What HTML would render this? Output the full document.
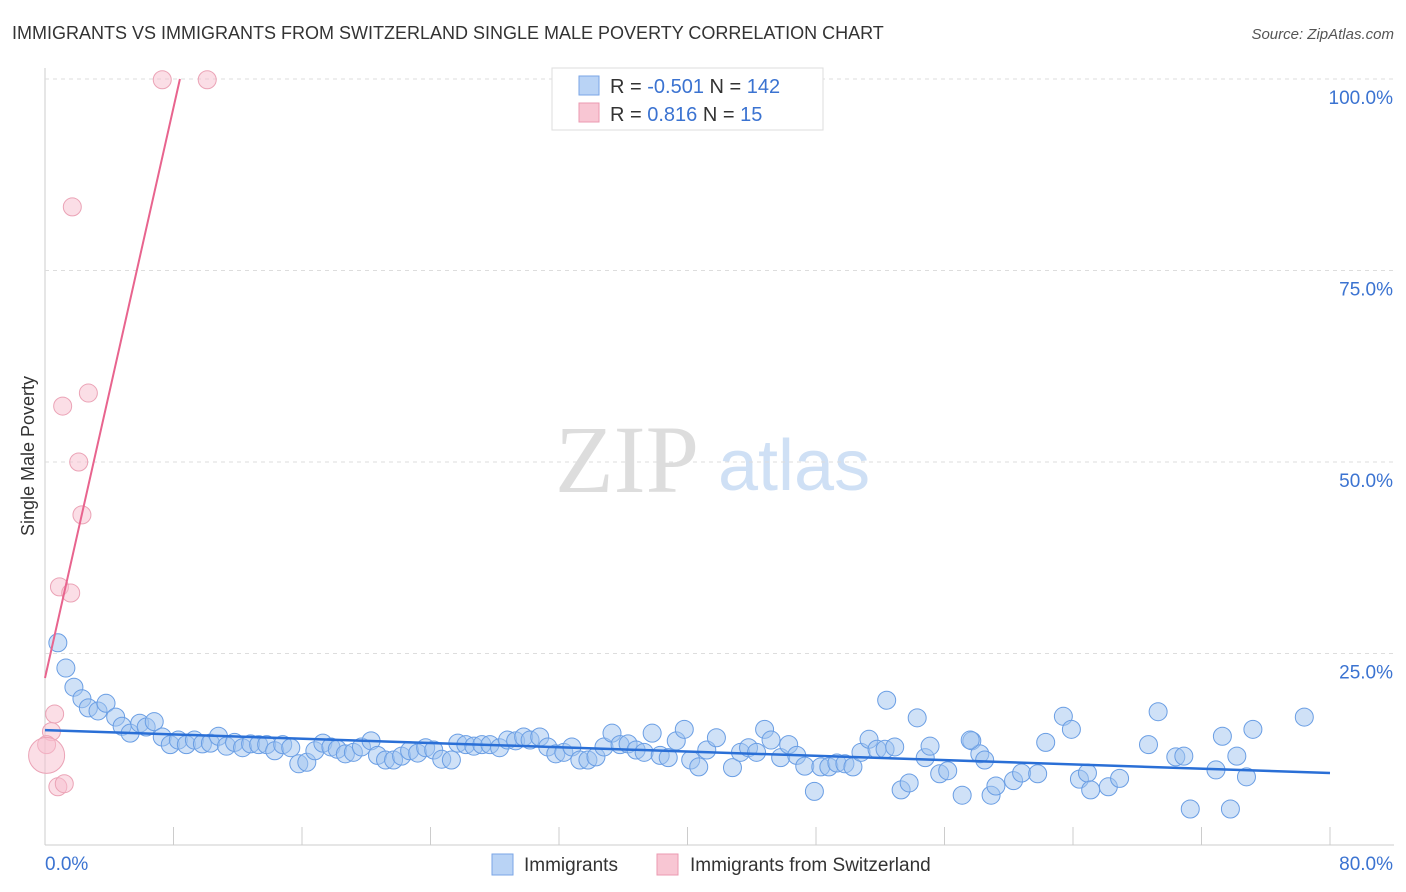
<!DOCTYPE html>
<html><head><meta charset="utf-8"><style>
body{margin:0;background:#fff;font-family:"Liberation Sans",sans-serif;}
#wrap{position:relative;width:1406px;height:892px;overflow:hidden;}
</style></head><body>
<div id="wrap">
<svg id="chart" width="1406" height="892">
<text x="12" y="39" font-size="18" fill="#333">IMMIGRANTS VS IMMIGRANTS FROM SWITZERLAND SINGLE MALE POVERTY CORRELATION CHART</text>
<text x="1394" y="39" font-size="15" fill="#555" font-style="italic" text-anchor="end">Source: ZipAtlas.com</text>
<text x="34" y="456" font-size="18" fill="#333" text-anchor="middle" transform="rotate(-90 34 456)">Single Male Poverty</text>
<text x="555" y="492" font-size="96" fill="#ddd" font-family="Liberation Serif,serif">ZIP</text>
<text x="718" y="490" font-size="72" fill="#cfe0f5">atlas</text>
<g id="grid"></g><g id="pts"></g><g id="lines"></g>
<rect x="552" y="68" width="271" height="62" fill="#fff" stroke="#ddd"/>
<rect x="579" y="76" width="20" height="19" fill="#b9d3f5" stroke="#7aa6e6"/>
<rect x="579" y="103" width="20" height="19" fill="#f8c6d3" stroke="#eb9ab0"/>
<text x="610" y="93" font-size="20" fill="#333">R = <tspan fill="#3b73d1">-0.501</tspan>   N = <tspan fill="#3b73d1">142</tspan></text>
<text x="610" y="121" font-size="20" fill="#333">R =  <tspan fill="#3b73d1">0.816</tspan>   N =   <tspan fill="#3b73d1">15</tspan></text>
<rect x="492" y="854" width="21" height="21" fill="#b9d3f5" stroke="#7aa6e6"/>
<text x="524" y="871" font-size="19" fill="#333">Immigrants</text>
<rect x="657" y="854" width="21" height="21" fill="#f8c6d3" stroke="#eb9ab0"/>
<text x="690" y="871" font-size="19" fill="#333">Immigrants from Switzerland</text>
</svg>
</div>
<script>
const xTickLabels=["0.0%","80.0%"];
const yTicks=[25,50,75,100];
const yTickLabels=["25.0%","50.0%","75.0%","100.0%"];
const blueX=[0.8,1.3,1.8,2.3,2.7,3.3,3.8,4.4,4.8,5.3,5.9,6.3,6.8,7.3,7.8,8.3,8.8,9.3,9.8,10.3,10.8,11.3,11.8,12.3,12.8,13.3,13.8,14.3,14.8,15.3,15.8,16.3,16.8,17.3,17.8,18.2,18.7,19.2,19.7,20.3,20.7,21.2,21.7,22.2,22.7,23.2,23.7,24.2,24.7,25.3,25.7,26.2,26.7,27.2,27.7,28.3,28.8,29.3,29.8,30.2,30.8,31.3,31.8,32.3,32.8,33.3,33.8,34.3,34.8,35.3,35.8,36.3,36.8,37.3,37.8,38.3,38.8,39.3,39.8,40.2,40.7,41.2,41.8,42.8,43.3,43.8,44.3,44.8,45.2,45.8,46.3,46.8,47.3,47.9,48.3,48.8,49.3,49.8,50.3,50.8,51.3,51.8,52.3,52.9,53.3,53.8,54.3,54.8,55.1,55.7,56.2,57.1,57.7,58.2,58.5,58.9,59.2,60.3,60.8,61.8,62.3,63.4,63.9,64.4,64.9,65.1,66.2,66.9,68.7,69.3,70.4,70.9,71.3,72.9,73.3,73.8,74.2,74.8,75.2,78.4,52.4,57.6];
const blueY=[26.4,23.1,20.6,19.1,17.9,17.5,18.5,16.7,15.5,14.6,15.9,15.4,16.1,14.1,13.1,13.7,13.1,13.7,13.2,13.3,14.2,12.9,13.4,12.7,13.2,13.1,13.1,12.3,13.1,12.7,10.6,10.8,12.3,13.3,12.8,12.5,11.9,12.1,12.8,13.6,11.7,11.1,11.1,11.6,12.3,12.0,12.7,12.4,11.2,11.1,13.3,13.1,12.9,13.1,13.1,12.7,13.7,13.6,14.1,13.7,14.1,12.8,11.9,12.1,12.8,11.1,11.1,11.5,12.8,14.6,13.1,13.2,12.4,12.1,14.6,11.7,11.4,13.6,15.1,11.1,10.2,12.4,14.0,10.1,12.1,12.7,12.1,15.1,13.7,11.4,13.1,11.7,10.3,7.0,10.2,10.2,10.7,10.6,10.2,12.1,13.8,12.5,12.5,12.8,7.2,8.1,16.6,11.4,12.9,9.3,9.7,6.5,13.6,11.9,11.1,6.5,7.7,8.4,9.4,9.3,13.4,16.8,15.1,8.6,9.4,7.2,7.6,8.7,13.1,17.4,11.5,11.6,4.7,9.8,14.2,4.7,11.6,8.9,15.1,16.7,18.9,13.7];
const pinkX=[7.3,10.1,1.7,1.1,2.7,2.1,2.3,0.9,1.6,0.6,0.4,0.1,0.1,0.8,1.2];
const pinkY=[99.9,99.9,83.3,57.3,59.0,50.0,43.1,33.7,32.9,17.1,14.8,13.1,11.7,7.6,8.0];
const pinkSize=[1,1,1,1,1,1,1,1,1,1,1,1,2,1,1];
const blueTrend=[15.0,9.4];   // y at x=0 and x=80
const pinkTrend=[21.8,100,8.4]; // y0, y1, x at y1

const X0=45,X1=1330,Y0=845,Y1=79;
const sx=v=>X0+(v/80)*(X1-X0);
const sy=v=>Y0-(v/100)*(Y0-Y1);
const NS="http://www.w3.org/2000/svg";
function mk(tag,attrs,parent){const e=document.createElementNS(NS,tag);for(const k in attrs)e.setAttribute(k,attrs[k]);document.getElementById(parent).appendChild(e);return e;}
let e;
e=mk('line',{x1:X0,y1:68,x2:X0,y2:Y0,stroke:'#ccc'},'grid');


e=mk('line',{x1:X0,y1:Y0,x2:1394,y2:Y0,stroke:'#ccc'},'grid');


for(let i=0;i<=10;i++){
 e=mk('line',{x1:sx(i*8),y1:Y0,x2:sx(i*8),y2:Y0-18,stroke:'#ccc'},'grid');
 
 
}
yTicks.forEach((t,i)=>{
 e=mk('line',{x1:X0,y1:sy(t),x2:1394,y2:sy(t),stroke:'#ddd','stroke-dasharray':'4 4'},'grid');
 
 
 e=mk('text',{x:1393,y:sy(t)+25,'font-size':19,fill:'#3b73d1','text-anchor':'end'},'grid');
 e.textContent=yTickLabels[i];
 
 
});
e=mk('text',{x:45,y:870,'font-size':19,fill:'#3b73d1'},'grid');e.textContent=xTickLabels[0];


e=mk('text',{x:1393,y:870,'font-size':19,fill:'#3b73d1','text-anchor':'end'},'grid');e.textContent=xTickLabels[1];


blueX.forEach((v,i)=>{
 e=mk('circle',{cx:sx(v),cy:sy(blueY[i]),r:9,fill:'rgba(160,196,240,0.5)',stroke:'#6a9ee4','stroke-width':1},'pts');
 
 
});
pinkX.forEach((v,i)=>{
 e=mk('circle',{cx:sx(v),cy:sy(pinkY[i]),r:9*pinkSize[i],fill:'rgba(248,190,205,0.5)',stroke:'#eba3b6','stroke-width':1},'pts');
 
 
});
e=mk('line',{x1:sx(0),y1:sy(blueTrend[0]),x2:sx(80),y2:sy(blueTrend[1]),stroke:'#2a6fd6','stroke-width':2.5},'lines');


e=mk('line',{x1:sx(0),y1:sy(pinkTrend[0]),x2:sx(pinkTrend[2]),y2:sy(pinkTrend[1]),stroke:'#e8648e','stroke-width':2},'lines');


</script>
</body></html>
